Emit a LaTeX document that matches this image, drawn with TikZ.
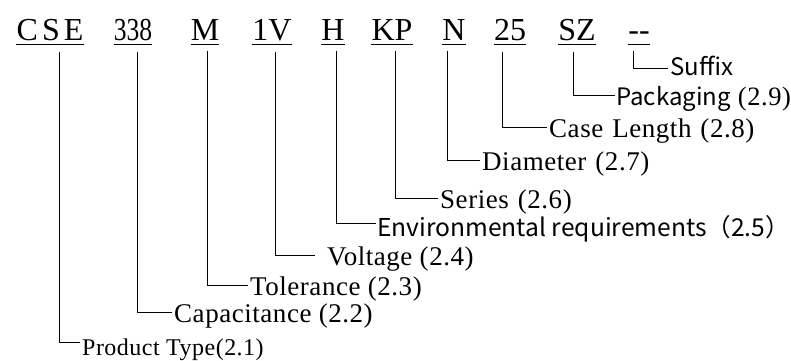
\documentclass[tikz,border=0pt]{standalone}
\usepackage{fontspec}
\setmainfont{Liberation Serif}
\newfontfamily\lblfont[LetterSpace=2]{Liberation Serif}
\newfontfamily\cjksans{Noto Sans CJK SC}
\usetikzlibrary{positioning}

\begin{document}
\begin{tikzpicture}[
    x=1pt, y=-1pt,
    code/.style={anchor=base, inner xsep=0pt, inner ysep=4pt, font=\fontsize{32}{36}\selectfont},
    uline/.style={line width=1.2pt},
    lbl/.style={anchor=west, inner xsep=2pt, inner ysep=0pt, text height=22pt, text depth=2pt, font=\lblfont\fontsize{27}{30}\selectfont},
    lblsans/.style={lbl, text height=26pt, text depth=0pt, font=\cjksans\fontsize{24}{28}\selectfont},
    link/.style={line width=1pt},
]
  \useasboundingbox (0,0) rectangle (791,360);

  % part number fields
  \node[code] (cse) at (50,40)  {C\kern4pt S\kern4pt E};
  \node[code] (cap) at (133,40) {\scalebox{0.8}[1]{338}};
  \node[code] (tol) at (205,40) {M};
  \node[code] (vol) at (272,40) {1V};
  \node[code] (env) at (333,40) {H};
  \node[code] (ser) at (392,40) {KP};
  \node[code] (dia) at (454,40) {N};
  \node[code] (len) at (510,40) {25};
  \node[code] (pkg) at (577,40) {SZ};
  \node[code] (suf) at (639,40) {-{}-};
  \foreach \c in {cse,cap,tol,vol,env,ser,dia,len,pkg,suf}
    \draw[uline] (\c.south west) -- (\c.south east);

  % field descriptions
  \node[lbl, text height=26pt, text depth=0pt, font=\lblfont\fontsize{24}{28}\selectfont] (ptype) at (80,342) {Product Type(2.1)};
  \node[lbl] (lcap) at (172,312) {Capacitance (2.2)};
  \node[lbl] (ltol) at (248,285) {Tolerance (2.3)};
  \node[lbl, inner xsep=12pt] (lvol) at (315,255) {Voltage (2.4)};
  \node[lblsans, inner xsep=1pt, font=\cjksans\fontsize{24.6}{28}\selectfont] (lenv) at (376,223) {Environmental requirements（2.5）};
  \node[lbl] (lser) at (438,198) {Series\,\,(2.6)};
  \node[lbl] (ldia) at (480,160) {Diameter\,\,(2.7)};
  \node[lbl] (llen) at (547,127) {Case\,\,Length\,\,(2.8)};
  \node[lbl, inner xsep=1pt, font=\lblfont\fontsize{26.5}{30}\selectfont] (lpkg) at (615,95)  {{\cjksans\fontsize{24}{28}\selectfont Packaging} (2.9)};
  \node[lblsans, text height=14pt] (lsuf) at (668,68) {Suffix};

  % leaders
  \draw[link] ([xshift=9pt,yshift=-7pt]cse.south) |- (ptype.west);
  \draw[link] ([xshift=4pt,yshift=-7pt]cap.south) |- (lcap.west);
  \draw[link] ([xshift=2pt,yshift=-7pt]tol.south) |- (ltol.west);
  \draw[link] ([xshift=3pt,yshift=-7pt]vol.south) |- (lvol.west);
  \draw[link] ([xshift=3pt,yshift=-7pt]env.south) |- (lenv.west);
  \draw[link] ([xshift=3pt,yshift=-7pt]ser.south) |- (lser.west);
  \draw[link] ([xshift=-7pt,yshift=-7pt]dia.south) |- (ldia.west);
  \draw[link] ([xshift=-8pt,yshift=-7pt]len.south) |- (llen.west);
  \draw[link] ([xshift=-4pt,yshift=-7pt]pkg.south) |- (lpkg.west);
  \draw[link] ([xshift=-6pt,yshift=-7pt]suf.south) |- (lsuf.west);
\end{tikzpicture}
\end{document}
